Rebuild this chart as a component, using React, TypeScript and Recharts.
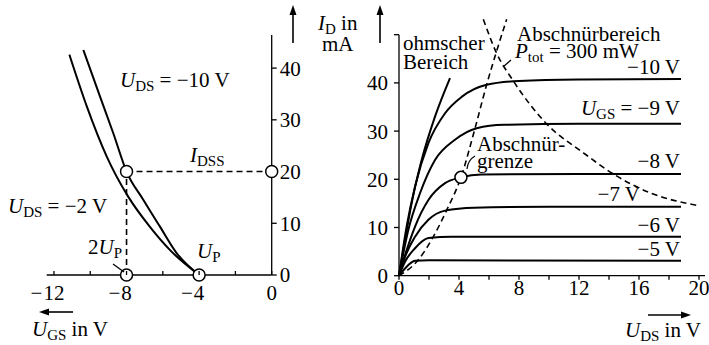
import React from 'react';
import { ComposedChart, Line, XAxis, YAxis, Scatter, ReferenceLine } from 'recharts';

const FONT = '"Liberation Serif", "Times New Roman", Times, serif';

// ---------- Left chart: transfer characteristic I_D(U_GS) ----------
const leftXTicks = [-12, -10, -8, -6, -4, -2, 0];
const leftXLabels = [-12, -8, -4, 0];
const leftYTicks = [0, 10, 20, 30, 40];
const udsMinus10: [number, number][] = [
  [-10.38, 43.5], [-9.46, 34.5], [-8.73, 27.4], [-8, 20], [-7.07, 14.5],
  [-6.15, 9.3], [-5.23, 4.2], [-4, 0],
];
const udsMinus2: [number, number][] = [
  [-11.15, 42.6], [-10.19, 32.6], [-9.09, 22.9], [-7.9, 15.1], [-6.71, 9.3],
  [-5.6, 4.8], [-4, 0],
];
const idssGuide: [number, number][] = [[-8, 20], [0, 20]];
const twoUpGuide: [number, number][] = [[-8, 0], [-8, 20]];
const leftMarkers: [number, number][] = [[-8, 0], [-4, 0], [-8, 20], [0, 20]];

// ---------- Right chart: output characteristics I_D(U_DS) ----------
const rightXTicks = [0, 2, 4, 6, 8, 10, 12, 14, 16, 18, 20];
const rightXLabels = [0, 4, 8, 12, 16, 20];
const rightYTicks = [0, 10, 20, 30, 40, 50];
const ohmicCurve: [number, number][] = [
  [0, 0], [0.4, 7.4], [0.84, 15], [1.51, 24], [2.4, 33], [3.4, 41],
];
const ugsMinus10: [number, number][] = [
  [0, 0], [0.51, 10.2], [1.07, 18.5], [1.96, 27.5], [3.07, 33.7], [4.18, 37.1],
  [5.84, 39.6], [8, 40.4], [12, 40.7], [18.8, 40.8],
];
const ugsMinus9: [number, number][] = [
  [0, 0], [0.62, 9.5], [1.4, 17.1], [2.4, 24], [3.73, 28.2], [5.18, 30.6],
  [7, 31.3], [12, 31.5], [18.8, 31.5],
];
const ugsMinus8: [number, number][] = [
  [0, 0], [0.51, 5.3], [1.07, 10.2], [1.96, 15.7], [3.07, 19.2], [4.13, 20.4],
  [5.5, 21], [12, 21.1], [18.8, 21.1],
];
const ugsMinus7: [number, number][] = [
  [0, 0], [0.4, 3.9], [1.07, 8.1], [1.96, 11.6], [3.07, 13.5], [5, 14.1],
  [10, 14.3], [18.8, 14.3],
];
const ugsMinus6: [number, number][] = [
  [0, 0], [0.4, 2.9], [1.07, 5.7], [1.96, 7.8], [3.5, 8.1], [18.8, 8.1],
];
const ugsMinus5: [number, number][] = [
  [0, 0], [0.4, 1.5], [1.07, 3.1], [2, 3.2], [18.8, 3.1],
];
const pinchOffBoundary: [number, number][] = [
  [0, 0], [1.29, 3.3], [2.29, 8.1], [3.18, 13.6], [4.13, 20.4], [5.07, 30.6],
  [5.84, 39.6], [6.45, 46], [7.18, 53.2],
];
const ptotHyperbola: [number, number][] = [
  [5.62, 53.2], [6.5, 46.2], [7.6, 40.5], [9.84, 31.5], [12.29, 25.5],
  [14.29, 21.1], [16.73, 17.2], [20.04, 14.5],
];
const rightMarkers: [number, number][] = [[4.13, 20.4]];

const pts = (a: [number, number][]) => a.map(([u, i]) => ({ u, i }));

const MINUS = '\u2212';
const FS = 21;
const txtStyle: React.CSSProperties = { fontFamily: FONT, fontSize: `${FS}px`, fill: '#000' };

const NumLabel = ({ x, y, v }: { x: number; y: number; v: number }) => {
  const digits = String(Math.abs(v));
  const w = digits.length * 10.5;
  return (
    <g>
      <text x={x} y={y} textAnchor="middle" style={txtStyle}>{digits}</text>
      {v < 0 && <text x={x - w / 2 - 1} y={y} textAnchor="end" style={txtStyle}>{MINUS}</text>}
    </g>
  );
};

const UpTick = (props: any) => {
  const { x, y, payload } = props;
  const v = payload.value;
  return (
    <g>
      <line x1={x} y1={y} x2={x} y2={y - 4} stroke="#000" strokeWidth={1.3} />
      {leftXLabels.includes(v) && <NumLabel x={x} y={y + 25} v={v} />}
    </g>
  );
};

const DownTick = (props: any) => {
  const { x, y, payload } = props;
  const v = payload.value;
  return (
    <g>
      <line x1={x} y1={y} x2={x} y2={y + 4} stroke="#000" strokeWidth={1.3} />
      {rightXLabels.includes(v) && <NumLabel x={x} y={y + 19.5} v={v} />}
    </g>
  );
};

const circleShape = (p: any) => (
  <circle cx={p.cx} cy={p.cy} r={6} fill="#fff" stroke="#000" strokeWidth={1.5} />
);

const solid = { stroke: '#000', strokeWidth: 2, dot: false, activeDot: false, isAnimationActive: false, type: 'monotone' as const };
const dashed = { stroke: '#000', strokeWidth: 1.6, strokeDasharray: '6 4', dot: false, activeDot: false, isAnimationActive: false, type: 'monotone' as const };
const axisStroke = { stroke: '#000', strokeWidth: 1.3 };
const tickText = { fontSize: FS, fontFamily: FONT, fill: '#000' };

const Sub = ({ base, sub }: { base: string; sub: string }) => (
  <>
    <tspan fontStyle="italic">{base}</tspan>
    <tspan style={{ fontSize: '15px' }} dy={4}>{sub}</tspan>
  </>
);

const T = (props: any) => <text {...props} style={txtStyle} />;

export default function App() {
  return (
    <div style={{ position: 'absolute', left: 0, top: 0, width: 709, height: 345, background: '#fff', overflow: 'hidden' }}>
      <div style={{ position: 'absolute', left: 0, top: 0 }}>
        <ComposedChart width={709} height={345} margin={{ top: 35, right: 407.3, bottom: 40, left: 46.7 }}>
          <XAxis type="number" dataKey="u" domain={[-12.4, 0]} ticks={leftXTicks} height={30}
            axisLine={axisStroke} tickLine={false} tickSize={0} tickMargin={0} tick={(p: any) => <UpTick {...p} />} />
          <YAxis type="number" dataKey="i" orientation="right" domain={[0, 46.4]} ticks={leftYTicks} width={30}
            axisLine={axisStroke} tickLine={axisStroke} tickSize={5} tickMargin={3} tick={tickText} />
          <Line data={pts(idssGuide)} dataKey="i" {...dashed} type="linear" />
          <Line data={pts(twoUpGuide)} dataKey="i" {...dashed} type="linear" />
          <Line data={pts(udsMinus10)} dataKey="i" {...solid} />
          <Line data={pts(udsMinus2)} dataKey="i" {...solid} />
          <Scatter data={pts(leftMarkers)} dataKey="i" shape={circleShape} isAnimationActive={false} />
        </ComposedChart>
      </div>
      <div style={{ position: 'absolute', left: 0, top: 0 }}>
        <ComposedChart width={709} height={345} margin={{ top: 15.4, right: 4, bottom: 39.3, left: 369 }}>
          <XAxis type="number" dataKey="u" domain={[0, 20.4]} ticks={rightXTicks} height={30}
            axisLine={axisStroke} tickLine={false} tickSize={0} tickMargin={0} tick={(p: any) => <DownTick {...p} />} />
          <YAxis type="number" dataKey="i" domain={[0, 54]} ticks={rightYTicks} width={30}
            axisLine={false} tickLine={axisStroke} tickSize={5} tickMargin={6} tick={tickText}
            tickFormatter={(v: number) => (v === 50 ? '' : String(v))} />
          <ReferenceLine segment={[{ x: 0, y: 0 }, { x: 0, y: 50 }]} stroke="#000" strokeWidth={1.3} ifOverflow="visible" />
          <Line data={pts(pinchOffBoundary)} dataKey="i" {...dashed} />
          <Line data={pts(ptotHyperbola)} dataKey="i" {...dashed} />
          <Line data={pts(ohmicCurve)} dataKey="i" {...solid} />
          <Line data={pts(ugsMinus10)} dataKey="i" {...solid} />
          <Line data={pts(ugsMinus9)} dataKey="i" {...solid} />
          <Line data={pts(ugsMinus8)} dataKey="i" {...solid} />
          <Line data={pts(ugsMinus7)} dataKey="i" {...solid} />
          <Line data={pts(ugsMinus6)} dataKey="i" {...solid} />
          <Line data={pts(ugsMinus5)} dataKey="i" {...solid} />
          <Scatter data={pts(rightMarkers)} dataKey="i" shape={circleShape} isAnimationActive={false} />
        </ComposedChart>
      </div>
      <svg width={709} height={345} style={{ position: 'absolute', left: 0, top: 0, pointerEvents: 'none' }}>
        {/* Left chart annotations */}
        <T x={120} y={87}><Sub base="U" sub="DS" /><tspan dy={-4}> = {MINUS}10 V</tspan></T>
        <T x={190} y={162}><Sub base="I" sub="DSS" /></T>
        <T x={8} y={213}><Sub base="U" sub="DS" /><tspan dy={-4}> = {MINUS}2 V</tspan></T>
        <T x={88} y={254}><tspan>2</tspan><Sub base="U" sub="P" /></T>
        <T x={197} y={258}><Sub base="U" sub="P" /></T>
        <line x1={113} y1={264} x2={124} y2={272} stroke="#000" strokeWidth={1.2} />

        {/* Axis titles and arrows */}
        <line x1={293} y1={43} x2={293} y2={12} stroke="#000" strokeWidth={1.6} />
        <polygon points="293,5 289.5,15 296.5,15" fill="#000" />
        <line x1={380} y1={43} x2={380} y2={12} stroke="#000" strokeWidth={1.6} />
        <polygon points="380,5 376.5,15 383.5,15" fill="#000" />
        <T x={318} y={30}><Sub base="I" sub="D" /><tspan dy={-4}> in</tspan></T>
        <T x={322} y={51}>mA</T>

        <line x1={73} y1={312} x2={47} y2={312} stroke="#000" strokeWidth={1.6} />
        <polygon points="39,312 49,308.5 49,315.5" fill="#000" />
        <T x={32} y={336}><Sub base="U" sub="GS" /><tspan dy={-4}> in V</tspan></T>

        <line x1={648} y1={315} x2={683} y2={315} stroke="#000" strokeWidth={1.6} />
        <polygon points="691,315 681,311.5 681,318.5" fill="#000" />
        <T x={625} y={337}><Sub base="U" sub="DS" /><tspan dy={-4}> in V</tspan></T>

        {/* Right chart annotations */}
        <T x={403} y={50}>ohmscher</T>
        <T x={403} y={69}>Bereich</T>
        <T x={517} y={41}>Abschnürbereich</T>
        <T x={515} y={58}><Sub base="P" sub="tot" /><tspan dy={-4}> = 300 mW</tspan></T>
        <path d="M511,60 L503,67" stroke="#000" strokeWidth={1.2} fill="none" />
        <T x={680} y={74} textAnchor="end">{MINUS}10 V</T>
        <T x={680} y={115} textAnchor="end"><Sub base="U" sub="GS" /><tspan dy={-4}> = {MINUS}9 V</tspan></T>
        <T x={477} y={151}>Abschnür-</T>
        <T x={477} y={168}>grenze</T>
        <path d="M475,156 Q468,160 467,169" stroke="#000" strokeWidth={1.2} fill="none" />
        <T x={680} y={168} textAnchor="end">{MINUS}8 V</T>
        <T x={640} y={201} textAnchor="end">{MINUS}7 V</T>
        <T x={680} y={232} textAnchor="end">{MINUS}6 V</T>
        <T x={680} y={256} textAnchor="end">{MINUS}5 V</T>
      </svg>
    </div>
  );
}
